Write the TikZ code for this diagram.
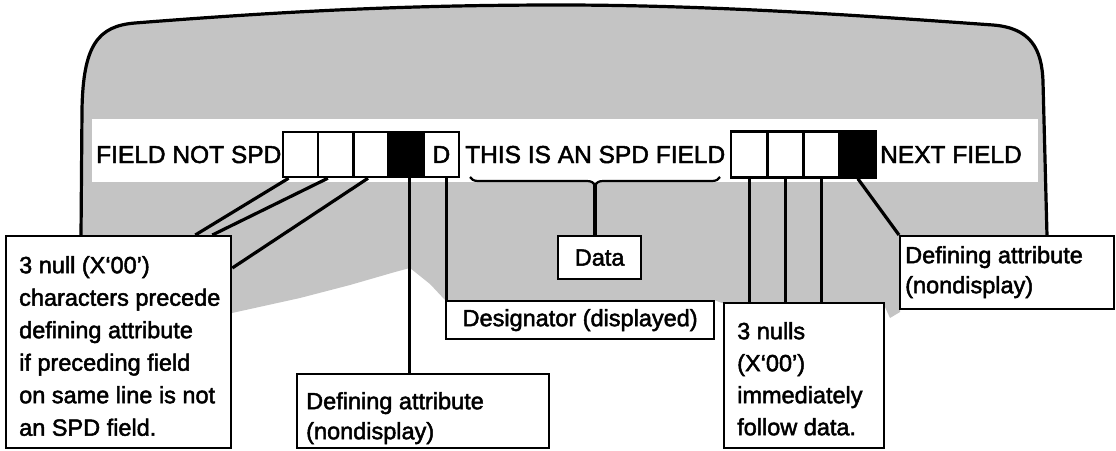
\documentclass[tikz,border=0pt]{standalone}
\usepackage{fontspec}
\setmainfont{Liberation Sans}[FakeBold=2]
\usetikzlibrary{decorations.pathreplacing,calc}
\definecolor{screengray}{gray}{0.77}
\begin{document}
\begin{tikzpicture}[x=1pt,y=-1pt,
  rowtext/.style={font=\fontsize{24.5}{29}\selectfont, inner sep=0pt, anchor=base west},
  cell/.style={draw, line width=2.5pt, fill=white, minimum width=35.2pt, minimum height=45pt, inner sep=0pt},
  rcell/.style={cell, minimum width=36.25pt, minimum height=46pt},
  callbox/.style={draw, line width=2.3pt, fill=white, inner sep=0pt, anchor=north west,
                  font=\fontsize{23.5}{32}\selectfont},
  calltext/.style={font=\fontsize{23.5}{32.5}\selectfont, inner sep=0pt, align=left, anchor=north west},
  conn/.style={line width=3.2pt},
  screenline/.style={line width=3.2pt, line join=round, line cap=round},
]
\useasboundingbox (0,0) rectangle (1116,450);

% screen background
\fill[screengray] (81,236) -- (82,110) .. controls (83,45) and (98,26) .. (135,23)
  .. controls (300,10) and (420,5) .. (560,5) .. controls (720,5) and (880,17) .. (993,25)
  .. controls (1030,28) and (1042,48) .. (1043,82) -- (1047,236) -- (900,236) -- (900,312)
  -- (890,318) -- (884,305) -- (722,303) -- (714,300) -- (445,300) -- (430,284) -- (410,268)
  -- (395,272) -- (350,285) -- (300,298) -- (232,313) -- (230,236) -- cycle;
\fill[white] (92,119) rectangle (1038,182);
\draw[screenline] (81,236) -- (82,110) .. controls (83,45) and (98,26) .. (135,23)
  .. controls (300,10) and (420,5) .. (560,5) .. controls (720,5) and (880,17) .. (993,25)
  .. controls (1030,28) and (1042,48) .. (1043,82) -- (1047,236);

% field row
\node[rowtext] (fns) at (96,163) {FIELD NOT SPD};
\node[rowtext] (spd) at (465,163) {THIS IS AN SPD FIELD};
\node[rowtext] (nxt) at (880,163) {NEXT FIELD};

\node[cell] (l1) at (300.6,154.5) {};
\node[cell] (l2) at (335.8,154.5) {};
\node[cell] (l3) at (371.0,154.5) {};
\node[cell, fill=black] (l4) at (406.2,154.5) {};
\node[cell, font=\fontsize{24.5}{29}\selectfont] (ld) at (441.4,154.5) {D};

\node[rcell] (r1) at (749.1,154.5) {};
\node[rcell] (r2) at (785.4,154.5) {};
\node[rcell] (r3) at (821.6,154.5) {};
\node[rcell, fill=black] (r4) at (857.9,154.5) {};

% brace over data
\draw[line width=2.2pt, decorate, decoration={brace, mirror, amplitude=8pt}] (470,177) -- (720,177);
\coordinate (btip) at (595,185);

% callouts
\node[callbox, minimum width=83pt, minimum height=43pt] (data) at (557,235) {Data};
\node[callbox, minimum width=268pt, minimum height=38pt] (desig) at (445,300) {Designator (displayed)};

\node[callbox, minimum width=225pt, minimum height=212pt] (nullL) at (5,235) {};
\node[calltext] (nullLt) at (19,256) {3 null (X‘00’)\\characters precede\\defining attribute\\if preceding field\\on same line is not\\an SPD field.};

\node[callbox, minimum width=252pt, minimum height=74pt] (defL) at (296,373) {};
\node[calltext, font=\fontsize{23.5}{30}\selectfont] (defLt) at (306,392) {Defining attribute\\(nondisplay)};

\node[callbox, minimum width=160pt, minimum height=145pt] (nulR) at (723,302) {};
\node[calltext, font=\fontsize{23.5}{32}\selectfont] (nulRt) at (737,322) {3 nulls\\(X‘00’)\\immediately\\follow data.};

\node[callbox, minimum width=214pt, minimum height=73pt] (defR) at (899,235) {};
\node[calltext, font=\fontsize{23.5}{30}\selectfont] (defRt) at (905,246) {Defining attribute\\(nondisplay)};

% connectors
\draw[conn] (btip) -- (btip |- data.north);
\draw[conn] ($(l1.south)+(-12,0)$) -- ($(nullL.north east)+(-37,0)$);
\draw[conn] ($(l2.south)+(-8,0)$) -- ($(nullL.north east)+(-20,0)$);
\draw[conn] ($(l3.south)+(-3,0)$) -- ($(nullL.north east)+(0,33)$);
\coordinate (kb) at ($(l4.south)+(3,0)$);
\draw[conn] (kb) -- (kb |- defL.north);
\coordinate (dd) at ($(ld.south)+(5,0)$);
\draw[conn] (dd) -- (dd |- desig.north);
\draw[conn] (r1.south) -- (r1.south |- nulR.north);
\draw[conn] (r2.south) -- (r2.south |- nulR.north);
\draw[conn] (r3.south) -- (r3.south |- nulR.north);
\draw[conn] (r4.south) -- (defR.north west);
\end{tikzpicture}
\end{document}
